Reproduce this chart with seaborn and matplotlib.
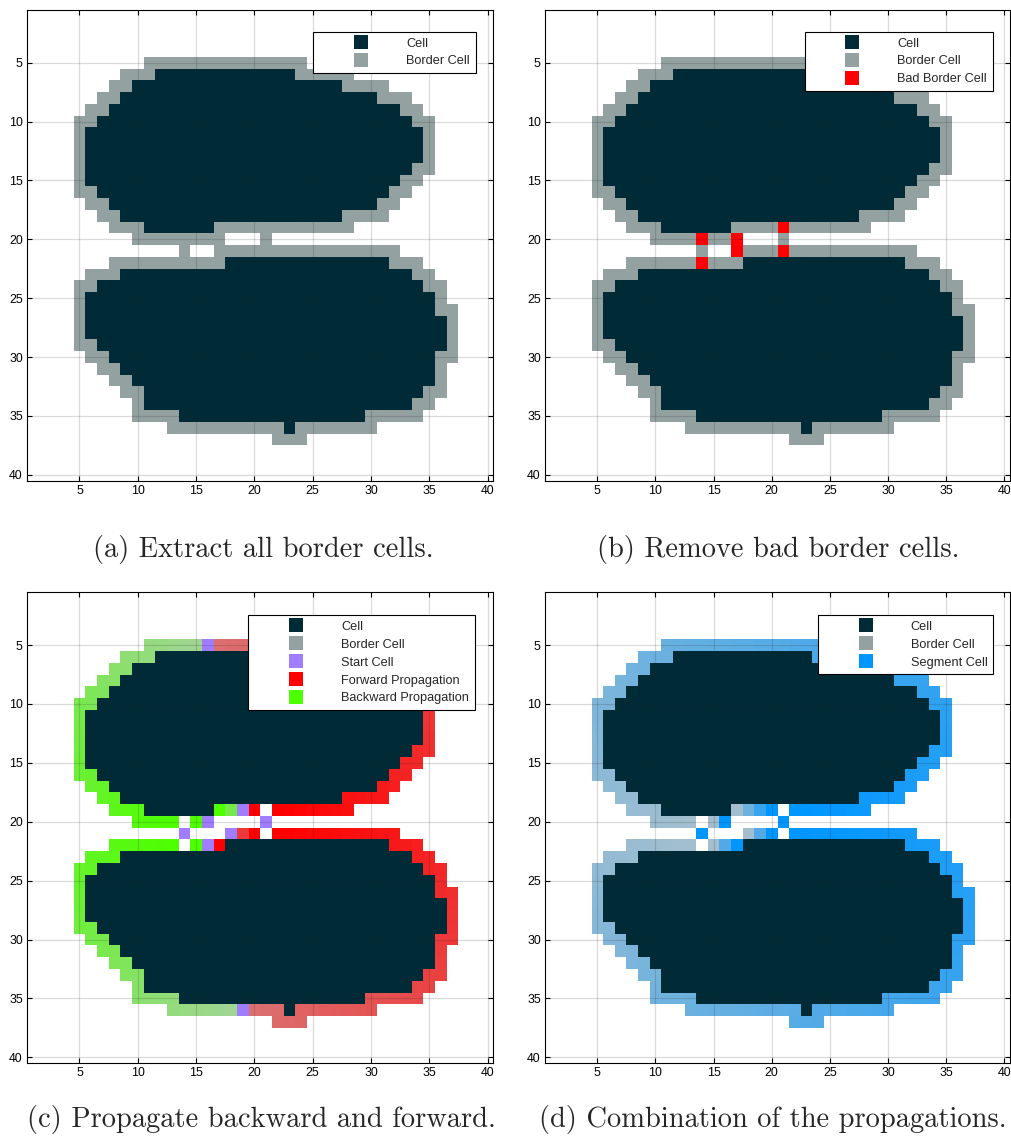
import numpy as np
import matplotlib
matplotlib.use("Agg")
import matplotlib.pyplot as plt
from matplotlib.colors import ListedColormap, to_rgb
from matplotlib.lines import Line2D
import seaborn as sns

sns.set_style("white")
plt.rcParams['font.family'] = ['Liberation Sans', 'DejaVu Sans']

# grid is 40 x 40, runs are (row, first col, last col)
cell_runs = [
    (6, 12, 23), (7, 10, 27), (8, 9, 30), (9, 8, 32), (10, 7, 33),
    (11, 6, 34), (12, 6, 34), (13, 6, 34), (14, 6, 33), (15, 6, 32),
    (16, 7, 31), (17, 8, 30), (18, 9, 27), (19, 11, 16),
    (22, 18, 31), (23, 9, 33), (24, 7, 34), (25, 6, 35), (26, 6, 35),
    (27, 6, 36), (28, 6, 36), (29, 7, 36), (30, 8, 35), (31, 9, 35),
    (32, 10, 35), (33, 11, 34), (34, 11, 33), (35, 14, 29), (36, 23, 23),
]
border_runs = [
    (5, 11, 24),
    (6, 9, 11), (6, 24, 28),
    (7, 8, 9), (7, 28, 31),
    (8, 7, 8), (8, 31, 33),
    (9, 6, 7), (9, 33, 34),
    (10, 5, 6), (10, 34, 35),
    (11, 5, 5), (11, 35, 35),
    (12, 5, 5), (12, 35, 35),
    (13, 5, 5), (13, 35, 35),
    (14, 5, 5), (14, 34, 35),
    (15, 5, 5), (15, 33, 34),
    (16, 5, 6), (16, 32, 33),
    (17, 6, 7), (17, 31, 32),
    (18, 7, 8), (18, 28, 31),
    (19, 8, 10), (19, 17, 28),
    (20, 10, 17), (20, 21, 21),
    (21, 14, 14), (21, 17, 32),
    (22, 8, 17), (22, 32, 34),
    (23, 6, 8), (23, 34, 35),
    (24, 5, 6), (24, 35, 36),
    (25, 5, 5), (25, 36, 36),
    (26, 5, 5), (26, 36, 37),
    (27, 5, 5), (27, 37, 37),
    (28, 5, 5), (28, 37, 37),
    (29, 5, 6), (29, 37, 37),
    (30, 6, 7), (30, 36, 37),
    (31, 7, 8), (31, 36, 36),
    (32, 8, 9), (32, 36, 36),
    (33, 9, 10), (33, 35, 36),
    (34, 10, 10), (34, 34, 35),
    (35, 10, 13), (35, 30, 34),
    (36, 13, 22), (36, 24, 30),
    (37, 22, 24),
]
# (col, row)
bad_cells = [(14, 20), (14, 22), (17, 20), (17, 21), (21, 19), (21, 21)]
start_cells = [(16, 5), (19, 19), (16, 20), (21, 20), (14, 21), (18, 21), (16, 22), (19, 36)]

ticks = [5, 10, 15, 20, 25, 30, 35, 40]
captions = ["(a) Extract all border cells.", "(b) Remove bad border cells.",
            "(c) Propagate backward and forward.", "(d) Combination of the propagations."]

CELL = to_rgb("#002b36")
BORDER = to_rgb("#93a1a1")
BAD = to_rgb("#ff0000")
START = to_rgb("#a07cff")
FWD = to_rgb("#ff0000")
BWD = to_rgb("#4dff00")
SEG = to_rgb("#0096ff")
FWD_LIGHT = to_rgb("#db7272")
BWD_LIGHT = to_rgb("#a2d496")
SEG_LIGHT = to_rgb("#a3bfcf")


def mix(a, b, t):
    return tuple(round(a[k] + (b[k] - a[k]) * t, 4) for k in range(3))


def nbrs(c, pool):
    x, y = c
    return [p for p in ((x + 1, y), (x - 1, y), (x, y + 1), (x, y - 1)) if p in pool]


def segments(pool):
    pool = set(pool)
    segs = []
    while pool:
        comp = {min(pool)}
        stack = list(comp)
        while stack:
            for q in nbrs(stack.pop(), pool):
                if q not in comp:
                    comp.add(q)
                    stack.append(q)
        pool -= comp
        ends = [c for c in comp if len(nbrs(c, comp)) <= 1]
        cur = min(ends)
        path = [cur]
        while len(path) < len(comp):
            cur = [q for q in nbrs(cur, comp) if q not in path][0]
            path.append(cur)
        segs.append(path)
    return segs


base = {}
for r, c0, c1 in cell_runs:
    for c in range(c0, c1 + 1):
        base[(c, r)] = CELL
for r, c0, c1 in border_runs:
    for c in range(c0, c1 + 1):
        base[(c, r)] = BORDER

grid_a = dict(base)
grid_b = dict(base)
for c in bad_cells:
    grid_b[c] = BAD

grid_c = {k: v for k, v in base.items() if k not in bad_cells}
grid_d = dict(grid_c)
border_left = [k for k, v in grid_c.items() if v == BORDER]
for seg in segments(border_left):
    n = len(seg)
    s = [i for i, c in enumerate(seg) if c in start_cells][0]
    for i, c in enumerate(seg):
        if i < s:
            grid_c[c] = mix(BWD_LIGHT, BWD, (s - i) / s)
        elif i > s:
            grid_c[c] = mix(FWD_LIGHT, FWD, (i - s) / (n - 1 - s))
        else:
            grid_c[c] = START
        grid_d[c] = mix(SEG_LIGHT, SEG, i / (n - 1) if n > 1 else 1.0)


def draw_grid(ax, colours):
    palette = sorted(set(colours.values()))
    idx = np.full((40, 40), -1.0)
    for (c, r), col in colours.items():
        idx[r - 1, c - 1] = palette.index(col)
    sns.heatmap(idx, mask=idx < 0, cmap=ListedColormap(palette), vmin=-0.5,
                vmax=len(palette) - 0.5, cbar=False, ax=ax,
                xticklabels=False, yticklabels=False)
    pos = np.array(ticks) - 0.5
    ax.set_xticks(pos)
    ax.set_xticklabels(ticks)
    ax.set_yticks(pos)
    ax.set_yticklabels(ticks)
    ax.tick_params(direction='in', length=3.5, width=0.8, color='k', labelcolor='k',
                   top=True, right=True, bottom=True, left=True, labelsize=8.9, pad=3)
    ax.grid(True, color='#262626', alpha=0.17, linewidth=0.9)
    ax.set_axisbelow(False)
    for sp in ax.spines.values():
        sp.set_visible(True)
        sp.set_color('k')
        sp.set_linewidth(0.8)


def add_legend(ax, items, anchor):
    handles = [Line2D([0], [0], marker='s', linestyle='None', markersize=10,
                      markerfacecolor=col, markeredgewidth=0, label=lab) for lab, col in items]
    leg = ax.legend(handles=handles, loc='upper right', bbox_to_anchor=anchor, fontsize=9.2,
                    frameon=True, fancybox=False, edgecolor='k', framealpha=1,
                    borderpad=0.45, handlelength=6.6, handletextpad=0.22,
                    labelspacing=0.46, borderaxespad=0)
    leg.get_frame().set_linewidth(0.8)


fig = plt.figure(figsize=(10.11, 11.43), dpi=100)
ax_a = fig.add_axes([0.0267, 0.5795, 0.4614, 0.4120])
ax_b = fig.add_axes([0.5391, 0.5795, 0.4599, 0.4120])
ax_c = fig.add_axes([0.0267, 0.0698, 0.4614, 0.4122])
ax_d = fig.add_axes([0.5391, 0.0698, 0.4599, 0.4122])

draw_grid(ax_a, grid_a)
draw_grid(ax_b, grid_b)
draw_grid(ax_c, grid_c)
draw_grid(ax_d, grid_d)

add_legend(ax_a, [("Cell", CELL), ("Border Cell", BORDER)], (0.962, 0.953))
add_legend(ax_b, [("Cell", CELL), ("Border Cell", BORDER), ("Bad Border Cell", BAD)], (0.963, 0.953))
add_legend(ax_c, [("Cell", CELL), ("Border Cell", BORDER), ("Start Cell", START),
                  ("Forward Propagation", FWD), ("Backward Propagation", BWD)], (0.960, 0.951))
add_legend(ax_d, [("Cell", CELL), ("Border Cell", BORDER), ("Segment Cell", SEG)], (0.964, 0.951))

for (x, y), txt in zip([(0.26, 0.5192), (0.7695, 0.5192), (0.259, 0.0206), (0.7645, 0.0206)], captions):
    fig.text(x, y, txt, ha='center', va='center', fontsize=20.5, family='cmr10')

fig.savefig("out.png", dpi=100)
